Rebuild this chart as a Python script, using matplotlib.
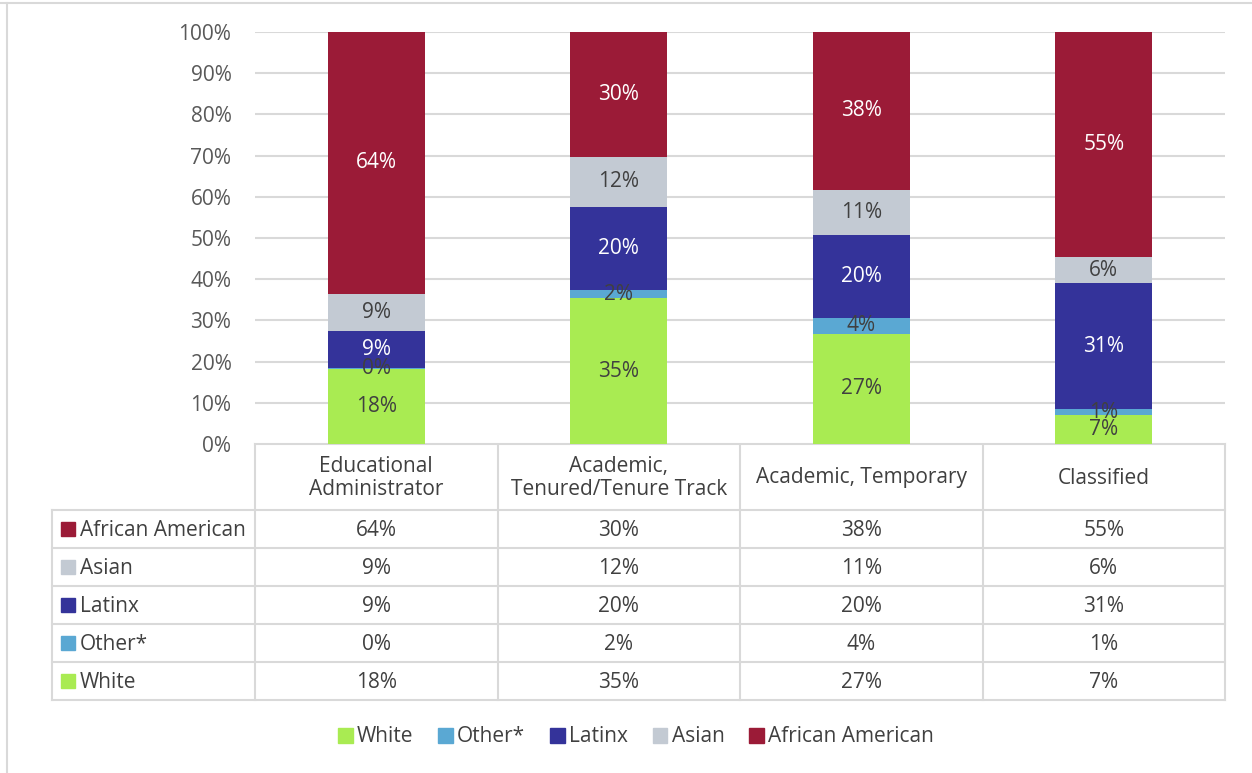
import numpy as np
import matplotlib.pyplot as plt
from matplotlib.patches import Patch

plt.rcParams['font.family'] = ['Open Sans', 'DejaVu Sans']

categories = ["Educational\nAdministrator", "Academic,\nTenured/Tenure Track",
              "Academic, Temporary", "Classified"]
groups = ["White", "Other*", "Latinx", "Asian", "African American"]
white = [18.2, 35.4, 26.7, 7.0]
other = [0.2, 2.0, 3.9, 1.4]
latinx = [9.0, 20.1, 20.1, 30.6]
asian = [9.1, 12.2, 11.0, 6.4]
african_american = [63.5, 30.3, 38.3, 54.6]
colors = ["#a9eb52", "#5aa8d3", "#34339a", "#c3cad3", "#9b1b37"]
label_colors = ["#404040", "#404040", "white", "#404040", "white"]

series = [white, other, latinx, asian, african_american]
W, H = 1252, 773
fs = 15
fig = plt.figure(figsize=(W / 100, H / 100), dpi=100)

# chart area in pixel coords
x0, x1, ytop, ybot = 255, 1225, 32, 444
ax = fig.add_axes([x0 / W, 1 - ybot / H, (x1 - x0) / W, (ybot - ytop) / H])
x = np.arange(len(categories))
bottom = np.zeros(len(categories))
for vals, c, tc in zip(series, colors, label_colors):
    vals = np.array(vals)
    ax.bar(x, vals, 0.4, bottom=bottom, color=c, zorder=3)
    for xi, b, v in zip(x, bottom, vals):
        ax.text(xi, b + v / 2, f"{v:.0f}%", ha="center", va="center",
                color=tc, fontsize=fs, zorder=4)
    bottom += vals
ax.set_xlim(-0.5, len(categories) - 0.5)
ax.set_ylim(0, 100)
ax.set_yticks(np.arange(0, 101, 10))
ax.set_yticklabels([f"{t}%" for t in range(0, 101, 10)], fontsize=fs, color="#595959")
ax.set_xticks([])
ax.tick_params(axis="y", length=0, pad=17)
ax.grid(axis="y", color="#d9d9d9", lw=1.5, zorder=0)
for s in ax.spines.values():
    s.set_visible(False)

# overlay for table and frame
ov = fig.add_axes([0, 0, 1, 1], zorder=-1)
ov.set_xlim(0, W)
ov.set_ylim(H, 0)
ov.axis("off")
lc = "#d9d9d9"
ov.plot([0, W], [3, 3], color=lc, lw=1.5)
ov.plot([7, 7], [3, H], color=lc, lw=1.5)

label_left = 52
colw = (x1 - x0) / len(categories)
header_bot = 510
rowh = 38
nrows = len(groups)
tab_bot = header_bot + rowh * nrows
ov.plot([x0, x1], [ybot, ybot], color=lc, lw=1.5)
for i in range(nrows + 1):
    y = header_bot + i * rowh
    ov.plot([label_left, x1], [y, y], color=lc, lw=1.5)
for i in range(len(categories) + 1):
    xx = x0 + i * colw
    ov.plot([xx, xx], [ybot, tab_bot], color=lc, lw=1.5)
ov.plot([label_left, label_left], [header_bot, tab_bot], color=lc, lw=1.5)

for j, cat in enumerate(categories):
    ov.text(x0 + (j + 0.5) * colw, (ybot + header_bot) / 2 + 1, cat, ha="center",
            va="center", fontsize=fs, color="#404040", linespacing=1.1)

for i, (g, vals, c) in enumerate(zip(groups[::-1], series[::-1], colors[::-1])):
    yc = header_bot + (i + 0.5) * rowh
    ov.add_patch(plt.Rectangle((61, yc - 7), 14, 14, color=c))
    ov.text(80, yc + 1, g, ha="left", va="center", fontsize=fs, color="#404040")
    for j, v in enumerate(vals):
        ov.text(x0 + (j + 0.5) * colw, yc + 1, f"{v:.0f}%", ha="center",
                va="center", fontsize=fs, color="#404040")

handles = [Patch(color=c, label=g) for g, c in zip(groups, colors)]
fig.legend(handles=handles, loc="center", bbox_to_anchor=(636 / W, 1 - 737 / H),
           ncol=5, frameon=False, fontsize=fs, handlelength=0.7, handleheight=0.7,
           handletextpad=0.2, columnspacing=1.2, labelcolor="#404040")

fig.savefig("out.png", dpi=100)
